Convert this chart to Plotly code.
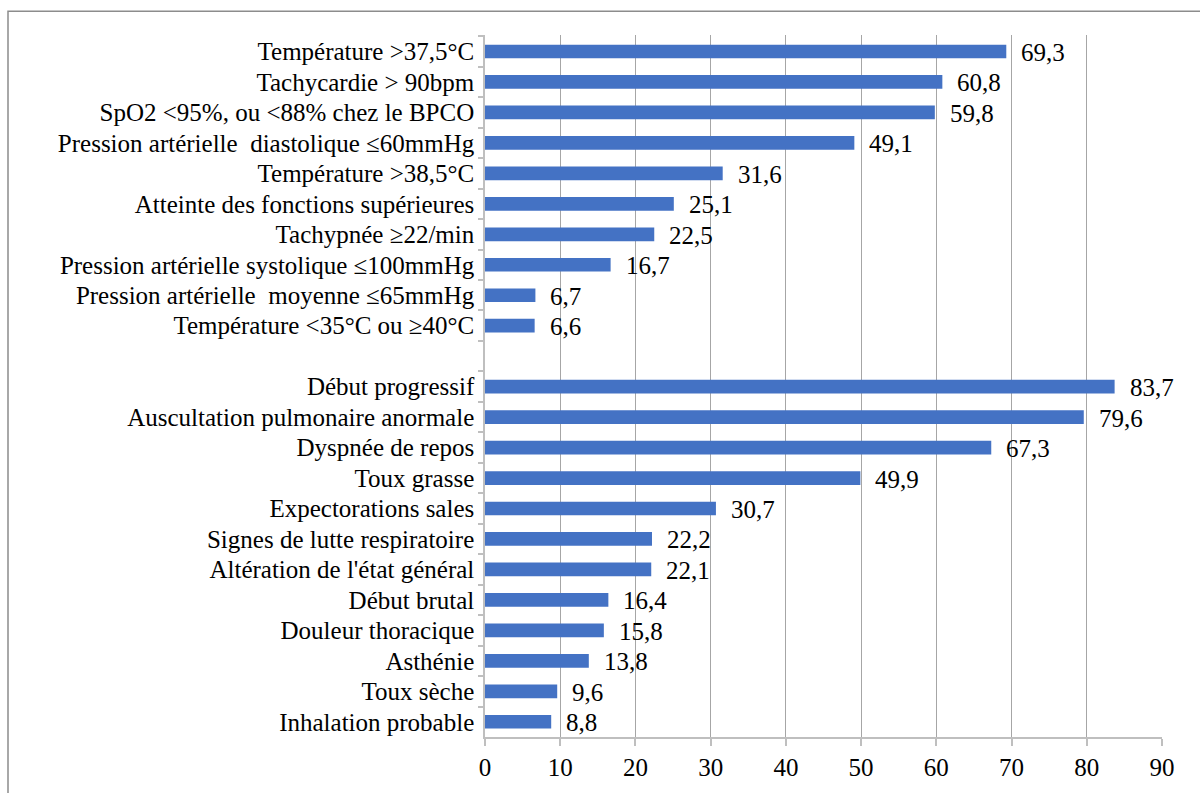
import plotly.graph_objects as go

# Signes généraux / paramètres vitaux
signes_generaux = [
    "Température >37,5°C",
    "Tachycardie > 90bpm",
    "SpO2 <95%, ou <88% chez le BPCO",
    "Pression artérielle\u00a0 diastolique ≤60mmHg",
    "Température >38,5°C",
    "Atteinte des fonctions supérieures",
    "Tachypnée ≥22/min",
    "Pression artérielle systolique ≤100mmHg",
    "Pression artérielle\u00a0 moyenne ≤65mmHg",
    "Température <35°C ou ≥40°C",
]
valeurs_generaux = [69.3, 60.8, 59.8, 49.1, 31.6, 25.1, 22.5, 16.7, 6.7, 6.6]

# Signes cliniques / mode de début
signes_cliniques = [
    "Début progressif",
    "Auscultation pulmonaire anormale",
    "Dyspnée de repos",
    "Toux grasse",
    "Expectorations sales",
    "Signes de lutte respiratoire",
    "Altération de l'état général",
    "Début brutal",
    "Douleur thoracique",
    "Asthénie",
    "Toux sèche",
    "Inhalation probable",
]
valeurs_cliniques = [83.7, 79.6, 67.3, 49.9, 30.7, 22.2, 22.1, 16.4, 15.8, 13.8, 9.6, 8.8]

x_ticks = [0, 10, 20, 30, 40, 50, 60, 70, 80, 90]

# empty row separating the two groups
separateur = " "
categories = signes_generaux + [separateur] + signes_cliniques
valeurs = valeurs_generaux + [None] + valeurs_cliniques

W, H = 1200, 793
L, R, T, B = 485, 38, 35, 47
police = "'Liberation Serif', 'Times New Roman', serif"
taille = 25

fig = go.Figure(
    go.Bar(
        x=valeurs,
        y=categories,
        orientation="h",
        marker=dict(color="#4472C4", line=dict(width=0)),
        hoverinfo="x+y",
    )
)

# value labels, comma as decimal separator
for cat, v in zip(categories, valeurs):
    if v is None:
        continue
    fig.add_annotation(
        x=v, y=cat, xref="x", yref="y",
        text=f"{v:.1f}".replace(".", ","),
        showarrow=False, xanchor="left", yanchor="middle",
        xshift=13, yshift=-1,
        font=dict(family=police, size=taille, color="#000000"),
    )

pw = W - L - R
ph = H - T - B
# outer frame around the chart (continues past the right and bottom edges)
fig.add_shape(
    type="rect", xref="paper", yref="paper",
    x0=(8 - L) / pw, x1=(1215 - L) / pw,
    y0=-(810 - (H - B)) / ph, y1=((H - B) - 11) / ph,
    line=dict(color="#8C8C8C", width=1.5),
    fillcolor="rgba(0,0,0,0)", layer="below",
)

fig.update_layout(
    width=W, height=H,
    margin=dict(l=L, r=R, t=T, b=B),
    paper_bgcolor="white", plot_bgcolor="white",
    bargap=0.55,
    showlegend=False,
    font=dict(family=police, size=taille, color="#000000"),
    xaxis=dict(
        range=[0, 90], tickvals=x_ticks, ticktext=[str(t) for t in x_ticks],
        showgrid=True, gridcolor="#A6A6A6", gridwidth=1,
        showline=True, linecolor="#BFBFBF", linewidth=1.5,
        ticks="outside", ticklen=7, tickcolor="#BFBFBF", tickwidth=1.5,
        zeroline=False, fixedrange=True,
        tickfont=dict(family=police, size=taille, color="#000000"),
    ),
    yaxis=dict(
        type="category", categoryorder="array", categoryarray=categories,
        autorange="reversed",
        showgrid=False, showline=True, linecolor="#BFBFBF", linewidth=1.5,
        ticks="outside", ticklen=5, tickcolor="#BFBFBF", tickwidth=1.5,
        tickson="boundaries", ticklabelstandoff=4,
        zeroline=False, fixedrange=True,
        tickfont=dict(family=police, size=taille, color="#000000"),
    ),
)

fig.write_html("out.html")
